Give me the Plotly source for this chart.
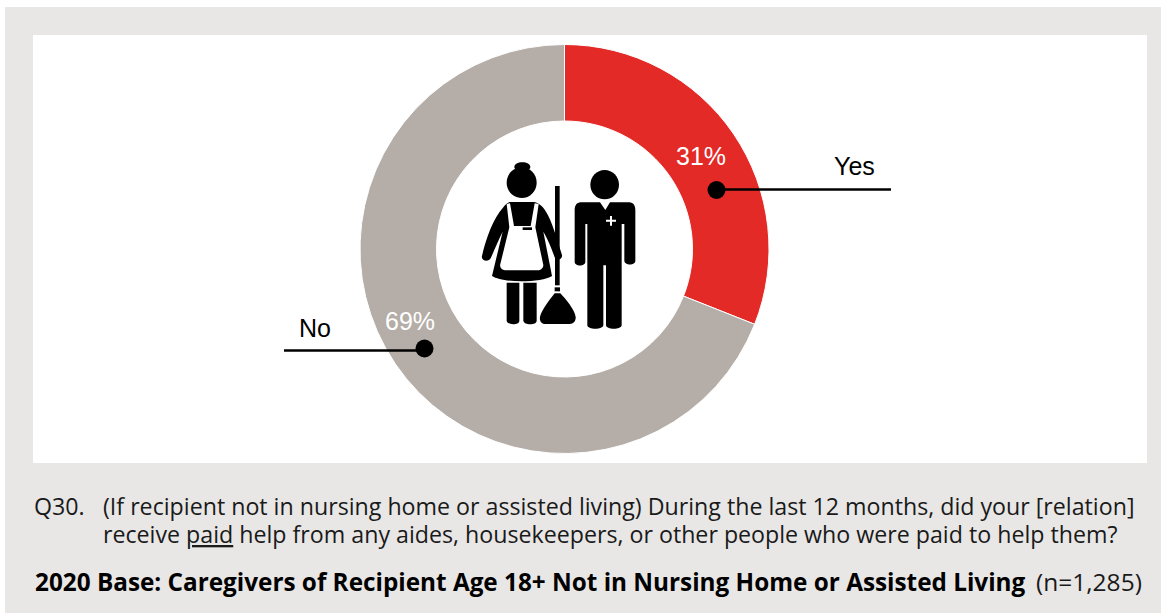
import re
import plotly.graph_objects as go

W, H = 1167, 614
categories = ["Yes", "No"]
values = [31, 69]
value_labels = ["31%", "69%"]
colors = ["#E32A27", "#B5ADA7"]
question_label = "Q30."
question_lines = [
    "(If recipient not in nursing home or assisted living) During the last 12 months, did your [relation]",
    "receive <u>paid</u> help from any aides, housekeepers, or other people who were paid to help them?",
]
base_bold = "2020 Base: Caregivers of Recipient Age 18+ Not in Nursing Home or Assisted Living"
base_n = "(n=1,285)"

CX, CY, R = 564.5, 249.0, 204.5
HOLE = 128 / R
BODY_FONT = "Open Sans"
LABEL_FONT = "Liberation Sans"


def px(x):
    return x / W


def py(y):
    return 1 - y / H


def rect(x0, y0, x1, y1, color):
    return dict(type="rect", xref="paper", yref="paper", x0=px(x0), x1=px(x1), y0=py(y0), y1=py(y1),
                fillcolor=color, line_width=0, layer="below")


def icon_path(d, color="#000000"):
    """Icon outline is written in zoomed-crop units (3x, origin 460,150)."""
    parts = re.findall(r"[MLCQZ]|-?\d+\.?\d*", d)
    out, is_x = [], True
    for p in parts:
        if p.isalpha():
            out.append(p)
            is_x = True
        else:
            v = float(p) / 3
            out.append(f"{px(460 + v):.5f}" if is_x else f"{py(150 + v):.5f}")
            is_x = not is_x
    return dict(type="path", xref="paper", yref="paper", path=" ".join(out), fillcolor=color,
                line_width=0, layer="above")


def icon_circle(cx, cy, rx, ry, color="#000000"):
    k = 0.5523
    return icon_path(
        f"M {cx-rx} {cy} C {cx-rx} {cy-k*ry} {cx-k*rx} {cy-ry} {cx} {cy-ry} "
        f"C {cx+k*rx} {cy-ry} {cx+rx} {cy-k*ry} {cx+rx} {cy} "
        f"C {cx+rx} {cy+k*ry} {cx+k*rx} {cy+ry} {cx} {cy+ry} "
        f"C {cx-k*rx} {cy+ry} {cx-rx} {cy+k*ry} {cx-rx} {cy} Z", color)


def dot(x, y, r):
    return dict(type="circle", xref="paper", yref="paper", x0=px(x - r), x1=px(x + r), y0=py(y + r), y1=py(y - r),
                fillcolor="#000000", line_width=0, layer="above")


def hline(x0, x1, y):
    return dict(type="line", xref="paper", yref="paper", x0=px(x0), x1=px(x1), y0=py(y), y1=py(y),
                line=dict(color="#000000", width=2.5), layer="above")


shapes = [
    rect(5, 7, 1161, 613, "#E8E7E5"),
    rect(33, 35, 1147, 463, "#FFFFFF"),
    # leaders
    hline(716, 891, 189.5), dot(716.5, 190, 9),
    hline(284, 424, 350.5), dot(424.5, 348.5, 9),
    # maid
    icon_circle(187, 51, 24, 14),
    icon_circle(185, 98, 45, 46),
    icon_path("M 150 156 L 222 156 C 240 160 250 172 258 185 C 275 210 292 270 306 315 C 308 328 292 334 284 322 "
              "C 275 295 262 265 250 245 L 276 378 C 245 398 130 400 96 378 L 128 245 "
              "C 118 265 105 295 92 325 C 85 338 62 332 66 318 C 78 265 100 205 130 172 C 135 165 142 158 150 156 Z"),
    icon_path("M 140 162 L 150 160 L 162 228 L 212 228 L 224 160 L 236 162 L 226 232 L 250 345 "
              "C 250 355 242 360 235 361 L 135 361 C 125 360 118 352 121 342 L 148 232 Z", "#FFFFFF"),
    icon_path("M 188 232 L 216 232 L 216 240 L 188 240 Z"),
    icon_path("M 140 398 L 178 398 L 178 512 C 178 526 142 526 140 512 Z"),
    icon_path("M 190 398 L 230 398 L 230 512 C 230 526 192 526 190 512 Z"),
    # broom
    icon_path("M 285 108 L 299 108 L 299 406 L 285 406 Z"),
    icon_path("M 284 412 L 300 412 L 300 424 L 284 424 Z"),
    icon_path("M 284 430 L 301 430 C 315 445 345 480 347 502 C 347 520 335 522 325 522 L 258 522 "
              "C 245 522 238 515 240 500 C 245 480 272 445 284 430 Z"),
    # man
    icon_circle(434, 104, 43, 44),
    icon_path("M 362 157 L 420 157 L 436 180 L 450 157 L 508 157 C 520 157 526 168 526 180 L 526 332 "
              "C 526 347 494 347 493 332 L 493 222 L 485 222 L 485 525 C 485 540 438 540 438 525 L 438 346 "
              "L 430 346 L 430 525 C 430 540 382 540 382 525 L 382 222 L 376 222 L 376 335 "
              "C 376 350 344 350 344 335 L 344 180 C 344 168 350 157 362 157 Z"),
    icon_path("M 450 198 L 456 198 L 456 209 L 468 209 L 468 215 L 456 215 L 456 227 L 450 227 L 450 215 "
              "L 438 215 L 438 209 L 450 209 Z", "#FFFFFF"),
]


def note(x, y, text, font, size, color="#1A1A1A", anchor="left"):
    return dict(xref="paper", yref="paper", x=px(x), y=py(y), text=text, showarrow=False, xanchor=anchor,
                yanchor="middle", font=dict(family=font, size=size, color=color), align="left",
                borderpad=0, borderwidth=0)


annotations = [
    note(701, 155.5, value_labels[0], LABEL_FONT, 25, "#FFFFFF", "center"),
    note(409.5, 320.5, value_labels[1], LABEL_FONT, 25, "#FFFFFF", "center"),
    note(854, 165.5, categories[0], LABEL_FONT, 25, "#000000", "center"),
    note(315, 328, categories[1], LABEL_FONT, 25, "#000000", "center"),
    note(34, 505.5, question_label, BODY_FONT, 23.2),
    note(103, 505.5, question_lines[0], BODY_FONT, 23.2),
    note(103, 533.5, question_lines[1], BODY_FONT, 23.2),
    note(35, 581.5, f"<b>{base_bold}</b>", BODY_FONT, 24.3, "#000000"),
    note(1036, 581.5, base_n, BODY_FONT, 24.5),
]

fig = go.Figure(go.Pie(
    labels=categories, values=values, hole=HOLE, sort=False, direction="clockwise", rotation=0,
    marker=dict(colors=colors, line=dict(color="#FFFFFF", width=1)),
    textinfo="none", showlegend=False, hoverinfo="label+percent",
    domain=dict(x=[px(CX - R), px(CX + R)], y=[py(CY + R), py(CY - R)]),
))
fig.update_layout(width=W, height=H, margin=dict(l=0, r=0, t=0, b=0), paper_bgcolor="#FFFFFF",
                  shapes=shapes, annotations=annotations, showlegend=False)
fig.write_html("out.html", config=dict(displayModeBar=False), default_width=W, default_height=H,
               post_script="document.body.style.margin='0';document.body.style.overflow='hidden';")
